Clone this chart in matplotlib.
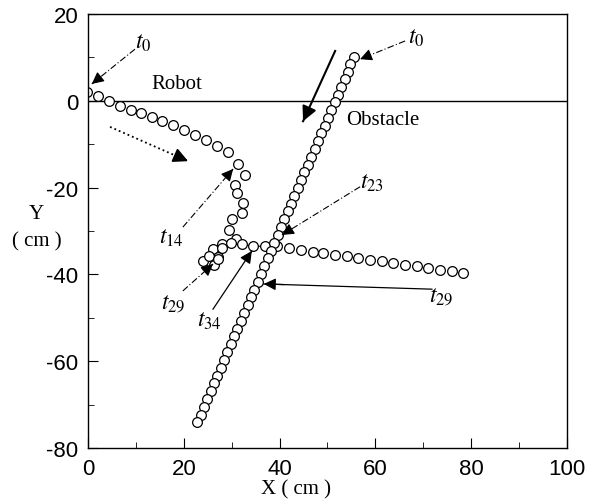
import numpy as np
import matplotlib
matplotlib.use("Agg")
from matplotlib import pyplot as plt

# robot trajectory (cm), t0 ... t52
robot_x = [-0.2, 2.1, 4.4, 6.7, 9.0, 11.1, 13.4, 15.5, 17.8, 20.0, 22.3, 24.6, 26.9, 29.2,
           31.3, 32.8, 30.7, 31.1, 32.4, 32.2, 30.1, 29.4, 30.9, 28.0, 26.1, 27.1, 25.7,
           24.0, 25.3, 26.3, 27.1, 28.0, 29.9, 32.2, 34.5, 37.0, 39.5, 42.0, 44.5, 47.0,
           49.1, 51.6, 54.1, 56.4, 58.9, 61.4, 63.7, 66.2, 68.7, 71.0, 73.5, 76.0, 78.3]
robot_y = [2.0, 1.1, -0.1, -1.2, -2.1, -2.8, -3.7, -4.7, -5.6, -6.7, -7.9, -9.0, -10.4, -11.8,
           -14.6, -17.1, -19.4, -21.2, -23.6, -25.9, -27.2, -29.7, -31.8, -33.0, -34.2, -36.0,
           -37.4, -36.9, -35.8, -37.8, -36.5, -33.9, -32.8, -33.0, -33.5, -33.5, -33.5, -33.9,
           -34.4, -34.8, -35.1, -35.5, -35.8, -36.2, -36.7, -36.9, -37.4, -37.8, -38.1, -38.5,
           -39.0, -39.2, -39.7]

# obstacle trajectory (cm), t0 ... t47
obst_x = [55.5, 54.8, 54.2, 53.6, 52.9, 52.2, 51.5, 50.8, 50.1, 49.4, 48.7, 48.0, 47.3, 46.6,
          45.9, 45.2, 44.5, 43.8, 43.1, 42.4, 41.7, 41.0, 40.3, 39.6, 38.9, 38.2, 37.5, 36.8,
          36.1, 35.4, 34.7, 34.0, 33.3, 32.6, 31.9, 31.2, 30.5, 29.8, 29.1, 28.4, 27.7, 27.0,
          26.3, 25.6, 24.9, 24.2, 23.5, 22.8]
obst_y = [10.0, 8.4, 6.7, 5.0, 3.2, 1.4, -0.3, -2.1, -3.9, -5.7, -7.5, -9.3, -11.1, -12.9,
          -14.7, -16.5, -18.3, -20.1, -21.9, -23.7, -25.5, -27.3, -29.1, -30.9, -32.7, -34.5,
          -36.3, -38.1, -39.9, -41.7, -43.5, -45.3, -47.1, -48.9, -50.7, -52.5, -54.3, -56.1,
          -57.9, -59.7, -61.5, -63.3, -65.1, -66.9, -68.7, -70.5, -72.3, -74.1]

plt.rcParams['mathtext.fontset'] = 'stix'
plt.rcParams['axes.unicode_minus'] = False
plt.rcParams['font.family'] = ['Liberation Sans', 'DejaVu Sans']
serif = 'Liberation Serif'

fig = plt.figure(figsize=(6.09, 5.02), dpi=100)
ax = fig.add_axes([0.1445, 0.1056, 0.7865, 0.8644])

ax.axhline(0, color='black', lw=1.0)

# tangled part of the robot path is joined by a thin line
ax.plot(robot_x[21:37], robot_y[21:37], '-', color='black', lw=0.8)
ax.plot(robot_x, robot_y, 'o', mfc='white', mec='black', ms=7, mew=0.9)
ax.plot(obst_x, obst_y, 'o', mfc='white', mec='black', ms=7, mew=0.9)

ax.set_xlim(0, 100)
ax.set_ylim(-80, 20)
ax.set_xticks([0, 20, 40, 60, 80, 100])
ax.set_yticks([-80, -60, -40, -20, 0, 20])
ax.set_xticks(np.arange(10, 100, 20), minor=True)
ax.set_yticks(np.arange(-70, 20, 20), minor=True)
ax.tick_params(which='both', direction='in', labelsize=16, pad=7)
ax.tick_params(which='major', length=7)
ax.tick_params(which='minor', length=4)
for s in ax.spines.values():
    s.set_linewidth(1.0)

ax.text(13.2, 3.9, 'Robot', family=serif, fontsize=15, va='center', ha='left')
ax.text(53.8, -4.3, 'Obstacle', family=serif, fontsize=15, va='center', ha='left')

fig.text(0.06, 0.572, 'Y', family=serif, fontsize=15, ha='center', va='center')
fig.text(0.06, 0.518, '( cm )', family=serif, fontsize=15, ha='center', va='center')
fig.text(0.486, 0.006, 'X ( cm )', family=serif, fontsize=15, ha='center', va='bottom')


def arrow(label, tip, tail, ls, lw=0.8, txt=None, head=18):
    # shaft with its own line style, then a solid head at the tip
    ax.plot([tail[0], tip[0]], [tail[1], tip[1]], color='black', lw=lw, linestyle=ls)
    hx = tip[0] + 0.12 * (tail[0] - tip[0])
    hy = tip[1] + 0.12 * (tail[1] - tip[1])
    ax.annotate('', xy=tip, xytext=(hx, hy),
                arrowprops=dict(arrowstyle='-|>', color='black', lw=lw,
                                mutation_scale=head, shrinkA=0, shrinkB=0))
    if label:
        ax.text(txt[0], txt[1], label, fontsize=17, ha='center', va='center')


dd = (0, (6, 2, 1, 2))
arrow(r'$t_0$', (0.8, 3.9), (9.8, 11.9), dd, txt=(11.6, 13.6))
arrow(r'$t_0$', (56.8, 9.6), (66.2, 13.8), dd, txt=(68.6, 14.8))
arrow(r'$t_{14}$', (30.3, -15.7), (19.8, -29.1), dd, txt=(17.4, -31.4))
arrow(r'$t_{23}$', (40.5, -30.9), (56.8, -19.8), dd, txt=(59.2, -18.8))
arrow(r'$t_{29}$', (26.1, -37.6), (19.8, -43.8), dd, txt=(17.8, -46.4))
arrow(r'$t_{29}$', (36.7, -42.2), (71.8, -43.4), '-', lw=0.9, txt=(73.8, -44.8))
arrow(r'$t_{34}$', (34.2, -34.6), (26.1, -48.0), '-', lw=0.9, txt=(25.4, -50.6))

# direction of motion
arrow('', (44.9, -4.7), (51.6, 11.5), '-', lw=1.5, head=22)
arrow('', (20.9, -13.9), (4.6, -6.0), ':', lw=1.3, head=22)

fig.savefig('out.png', dpi=100)
